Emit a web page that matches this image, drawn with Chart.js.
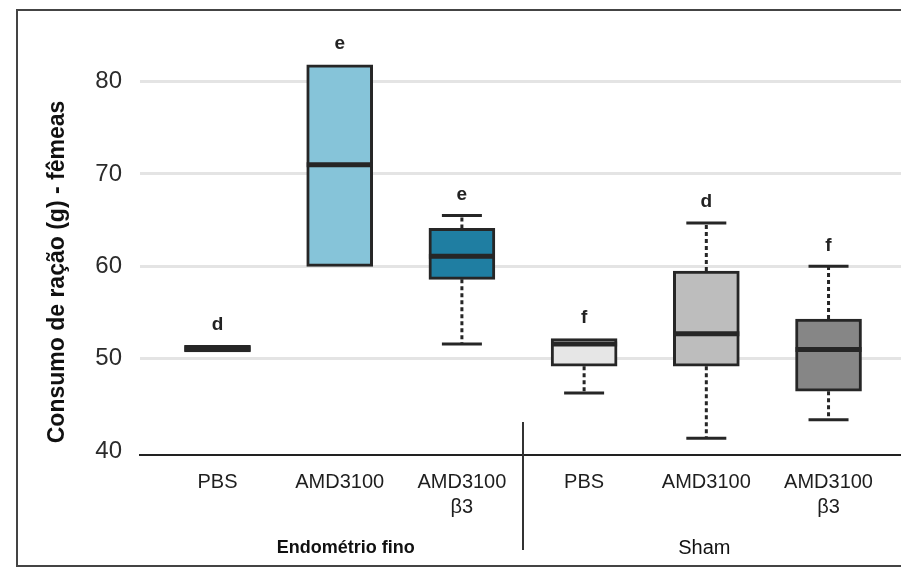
<!DOCTYPE html>
<html>
<head>
<meta charset="utf-8">
<script src="https://cdn.jsdelivr.net/npm/chart.js@4/dist/chart.umd.min.js"></script>
<style>
  html, body { margin: 0; padding: 0; background: #fff; }
  #wrap { width: 901px; height: 569px; }
</style>
</head>
<body>
<div id="wrap"><canvas id="chart" width="901" height="569"></canvas></div>
<script>
// groups on the x axis and the six treatments
const groupNames = ["Endométrio fino", "Sham"];
const groupSpans = [[0, 2], [3, 5]];
const categories = [["PBS"], ["AMD3100"], ["AMD3100", "β3"], ["PBS"], ["AMD3100"], ["AMD3100", "β3"]];

// box plot values (g)
const whiskerLow = [51.1, 60.0, 51.6, 46.3, 41.4, 43.4];
const boxLow = [50.75, 60.0, 58.6, 49.2, 49.2, 46.5];
const medians = [51.1, 71.0, 61.1, 51.6, 52.7, 51.0];
const boxHigh = [51.45, 81.8, 64.1, 52.2, 59.5, 54.3];
const whiskerHigh = [51.45, 81.8, 65.5, 52.2, 64.7, 60.0];
const letters = ["d", "e", "e", "f", "d", "f"];

const yTicks = [40, 50, 60, 70, 80];
const yTitle = "Consumo de ração (g) - fêmeas";

const boxColors = ["#1c1c1c", "#86c4d9", "#1f7ea2", "#e6e6e6", "#bdbdbd", "#868686"];
const INK = "#262626";
const FONT = "'Liberation Sans', Arial, sans-serif";

// medians, whiskers, letters, divider, group names, frame
const boxExtras = {
  id: "boxExtras",
  afterDatasetsDraw(chart) {
    const { ctx, scales: { x, y } } = chart;
    const half = 33;
    const capHalf = 20;
    ctx.save();
    ctx.strokeStyle = INK;
    categories.forEach((_, i) => {
      const cx = x.getPixelForValue(i);
      // whiskers
      ctx.lineWidth = 3;
      ctx.setLineDash([4, 3]);
      if (whiskerHigh[i] > boxHigh[i]) {
        ctx.beginPath();
        ctx.moveTo(cx, y.getPixelForValue(boxHigh[i]));
        ctx.lineTo(cx, y.getPixelForValue(whiskerHigh[i]));
        ctx.stroke();
      }
      if (whiskerLow[i] < boxLow[i]) {
        ctx.beginPath();
        ctx.moveTo(cx, y.getPixelForValue(boxLow[i]));
        ctx.lineTo(cx, y.getPixelForValue(whiskerLow[i]));
        ctx.stroke();
      }
      ctx.setLineDash([]);
      if (whiskerHigh[i] > boxHigh[i]) {
        const py = y.getPixelForValue(whiskerHigh[i]);
        ctx.beginPath();
        ctx.moveTo(cx - capHalf, py);
        ctx.lineTo(cx + capHalf, py);
        ctx.stroke();
      }
      if (whiskerLow[i] < boxLow[i]) {
        const py = y.getPixelForValue(whiskerLow[i]);
        ctx.beginPath();
        ctx.moveTo(cx - capHalf, py);
        ctx.lineTo(cx + capHalf, py);
        ctx.stroke();
      }
      // median
      ctx.lineWidth = 5;
      const my = y.getPixelForValue(medians[i]);
      ctx.beginPath();
      ctx.moveTo(cx - half, my);
      ctx.lineTo(cx + half, my);
      ctx.stroke();
      // significance letter
      ctx.fillStyle = "#222";
      ctx.font = "bold 19px " + FONT;
      ctx.textAlign = "center";
      ctx.textBaseline = "middle";
      ctx.fillText(letters[i], cx, y.getPixelForValue(whiskerHigh[i]) - 21);
    });

    // divider between the two groups
    const dx = x.getPixelForValue(2.5);
    ctx.lineWidth = 2;
    ctx.strokeStyle = "#333";
    ctx.beginPath();
    ctx.moveTo(dx, 422);
    ctx.lineTo(dx, 550);
    ctx.stroke();

    // group names
    ctx.fillStyle = "#111";
    ctx.textBaseline = "middle";
    groupNames.forEach((name, g) => {
      const mid = (x.getPixelForValue(groupSpans[g][0]) + x.getPixelForValue(groupSpans[g][1])) / 2;
      ctx.font = g === 0 ? "bold 18px " + FONT : "20px " + FONT;
      ctx.fillText(name, mid + (g === 0 ? 6 : -2), 548);
    });

    // y axis title
    ctx.save();
    ctx.translate(58, 272);
    ctx.rotate(-Math.PI / 2);
    ctx.font = "bold 23px " + FONT;
    ctx.fillStyle = "#111";
    ctx.fillText(yTitle, 0, 0);
    ctx.restore();

    // outer frame
    ctx.lineWidth = 2;
    ctx.strokeStyle = "#444";
    ctx.strokeRect(17, 10, 900, 556);
    ctx.restore();
  },
};

const chart = new Chart(document.getElementById("chart"), {
  type: "bar",
  data: {
    datasets: [{
      data: boxLow.map((lo, i) => ({ x: i, y: [lo, boxHigh[i]] })),
      backgroundColor: boxColors,
      borderColor: INK,
      borderWidth: 3,
      borderSkipped: false,
      barThickness: 66,
    }],
  },
  options: {
    responsive: false,
    animation: false,
    layout: { padding: { left: 17, top: 30, right: 0, bottom: 0 } },
    plugins: { legend: { display: false }, tooltip: { enabled: false } },
    scales: {
      x: {
        type: "linear",
        offset: false,
        min: -0.634,
        max: 5.593,
        afterBuildTicks(scale) {
          scale.ticks = categories.map((_, i) => ({ value: i }));
        },
        afterFit(scale) { scale.height = 114; },
        ticks: {
          callback: (v) => categories[v],
          color: "#1e1e1e",
          font: { family: FONT, size: 20, lineHeight: 1.25 },
          padding: 15,
          maxRotation: 0,
          autoSkip: false,
        },
        grid: { display: false, drawTicks: false },
        border: { display: true, color: "#222", width: 2 },
      },
      y: {
        min: 39.6,
        max: 85.3,
        afterBuildTicks(scale) {
          scale.ticks = yTicks.map((v) => ({ value: v }));
        },
        afterFit(scale) { scale.width = 123; },
        ticks: {
          color: "#2b2b2b",
          font: { family: FONT, size: 24 },
          padding: 18,
        },
        grid: {
          drawTicks: false,
          color: (c) => (c.tick && c.tick.value === 40 ? "rgba(0,0,0,0)" : "#e4e4e4"),
          lineWidth: 3,
        },
        border: { display: false },
      },
    },
  },
  plugins: [boxExtras],
});
</script>
</body>
</html>
